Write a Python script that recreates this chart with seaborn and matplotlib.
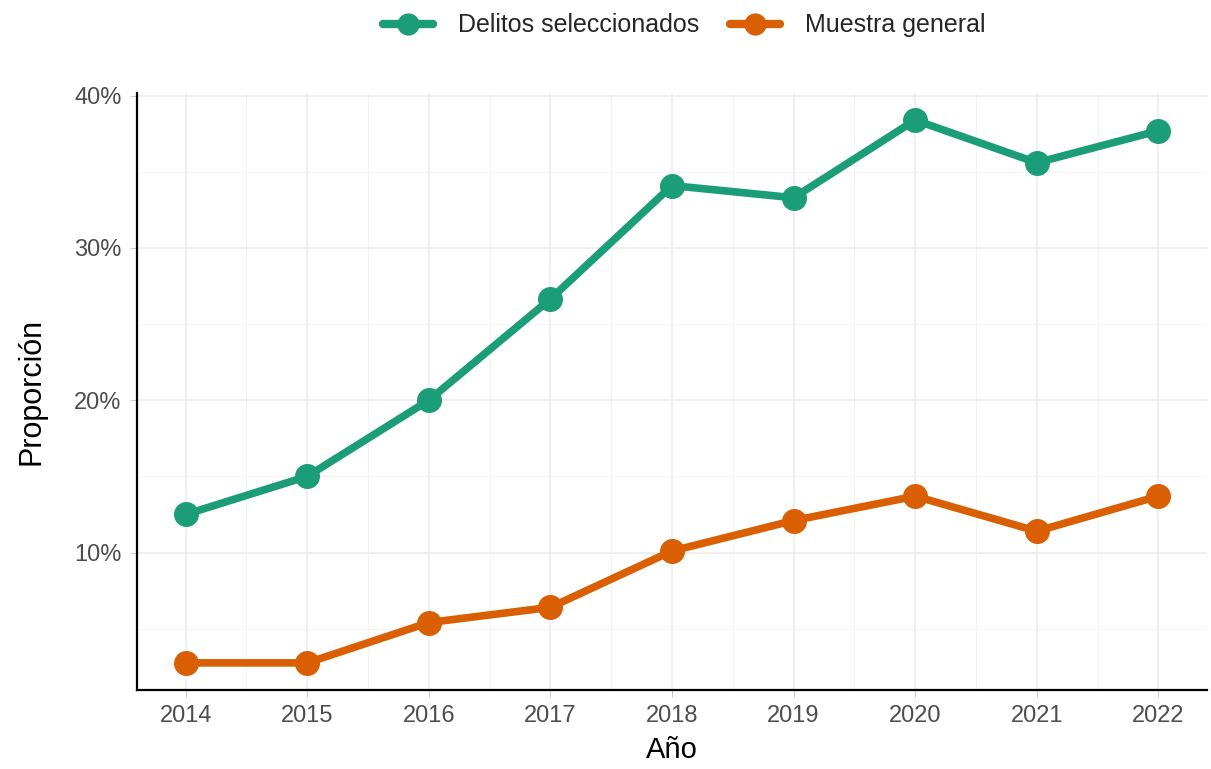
import pandas as pd
import matplotlib.pyplot as plt
import matplotlib.ticker as mticker
import seaborn as sns

years = [2014, 2015, 2016, 2017, 2018, 2019, 2020, 2021, 2022]
delitos = [12.5, 15.0, 20.0, 26.65, 34.1, 33.3, 38.4, 35.6, 37.7]
muestra = [2.75, 2.75, 5.4, 6.4, 10.1, 12.1, 13.7, 11.4, 13.7]
series_names = ["Delitos seleccionados", "Muestra general"]
colors = ["#1B9E77", "#D95F02"]

df = pd.DataFrame({
    "Año": years * 2,
    "Proporción": [v / 100 for v in delitos + muestra],
    "grupo": [series_names[0]] * len(years) + [series_names[1]] * len(years),
})

sns.set_theme(style="white")
plt.rcParams["font.family"] = ["Liberation Sans", "DejaVu Sans"]

fig = plt.figure(figsize=(12.11, 7.69), dpi=100)
ax = fig.add_axes([137 / 1211, 1 - 690 / 769, (1207 - 137) / 1211, (690 - 93) / 769])

sns.lineplot(data=df, x="Año", y="Proporción", hue="grupo", palette=colors,
             marker="o", markersize=18, markeredgewidth=0, linewidth=5.5,
             ax=ax, legend=False, zorder=3)

ax.set_xlim(2013.6, 2022.4)
ax.set_ylim(0.0097, 0.4018)
ax.set_xticks(years)
ax.set_yticks([0.1, 0.2, 0.3, 0.4])
ax.xaxis.set_minor_locator(mticker.FixedLocator([y + 0.5 for y in years[:-1]] + [2013.5]))
ax.yaxis.set_minor_locator(mticker.FixedLocator([0.05, 0.15, 0.25, 0.35]))
ax.yaxis.set_major_formatter(mticker.FuncFormatter(lambda v, p: f"{v*100:.0f}%"))

ax.grid(True, which="major", color="#EBEBEB", linewidth=1.1, zorder=0)
ax.grid(True, which="minor", color="#F3F3F3", linewidth=0.6, zorder=0)
ax.set_axisbelow(True)

for s in ["top", "right"]:
    ax.spines[s].set_visible(False)
for s in ["left", "bottom"]:
    ax.spines[s].set_color("black")
    ax.spines[s].set_linewidth(1.6)

ax.tick_params(axis="both", which="major", length=5, width=0.8, color="#CCCCCC",
               labelcolor="#4D4D4D", labelsize=17, bottom=True, left=True, pad=6)
ax.tick_params(axis="both", which="minor", length=0)

ax.set_xlabel("Año", fontsize=21, color="black", labelpad=6)
ax.set_ylabel("Proporción", fontsize=22, color="black", labelpad=20)

handles = [plt.Line2D([], [], color=c, marker="o", markersize=15, linewidth=6)
           for c in colors]
fig.legend(handles, series_names, loc="upper center", bbox_to_anchor=(0.565, 1.012),
           ncol=2, frameon=False, fontsize=18, handlelength=2.0,
           columnspacing=1.2, handletextpad=1.0)

fig.savefig("out.png", dpi=100)
